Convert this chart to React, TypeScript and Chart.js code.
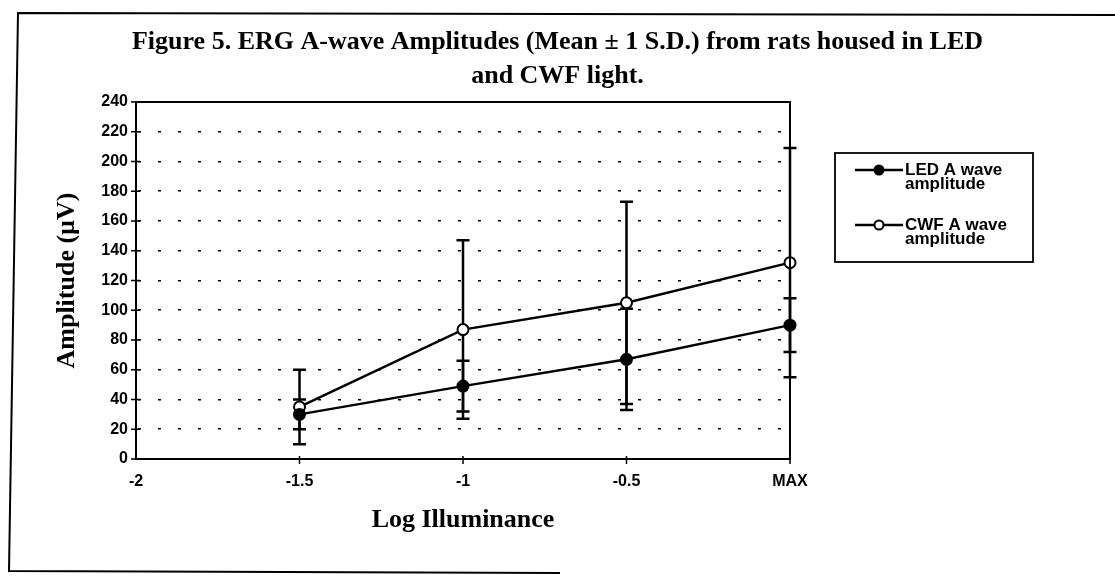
import React, { useEffect, useRef } from "react";
import { Chart, registerables } from "chart.js";

Chart.register(...registerables);

// ---- data ----
const xTickLabels = ["-2", "-1.5", "-1", "-0.5", "MAX"];
const pointLabels = ["-1.5", "-1", "-0.5", "MAX"];
const ledMean = [30, 49, 67, 90];
const ledSD = [10, 17, 34, 18];
const cwfMean = [35, 87, 105, 132];
const cwfSD = [25, 60, 68, 77];
const seriesNames = ["LED A wave amplitude", "CWF A wave amplitude"];
const legendLines = [
  ["LED A wave", "amplitude"],
  ["CWF A wave", "amplitude"],
];
const titleLines = [
  "Figure 5. ERG A-wave Amplitudes (Mean ± 1 S.D.) from rats housed in LED",
  "and CWF light.",
];
const yTitle = "Amplitude (µV)";
const xTitle = "Log Illuminance";
const yMin = 0;
const yMax = 240;
const yStep = 20;

const W = 1115;
const H = 578;

const decorPlugin = {
  id: "decor",
  beforeDraw(chart: any) {
    const ctx = chart.ctx;
    ctx.save();
    ctx.fillStyle = "#fff";
    ctx.fillRect(0, 0, chart.width, chart.height);
    // outer scanned frame
    ctx.strokeStyle = "#000";
    ctx.lineWidth = 2;
    ctx.beginPath();
    ctx.moveTo(W, 15);
    ctx.lineTo(18, 13);
    ctx.lineTo(9, 571);
    ctx.lineTo(560, 573);
    ctx.stroke();
    ctx.restore();
  },
  beforeDatasetsDraw(chart: any) {
    const ctx = chart.ctx;
    const yScale = chart.scales.y;
    ctx.save();
    ctx.strokeStyle = "#000";
    ctx.lineWidth = 2.5;
    chart.data.datasets.forEach((ds: any, di: number) => {
      const meta = chart.getDatasetMeta(di);
      meta.data.forEach((pt: any, i: number) => {
        const m = ds.means[i];
        const s = ds.sd[i];
        const x = pt.x;
        const yt = yScale.getPixelForValue(m + s);
        const yb = yScale.getPixelForValue(m - s);
        ctx.beginPath();
        ctx.moveTo(x, yt);
        ctx.lineTo(x, yb);
        ctx.moveTo(x - 6.5, yt);
        ctx.lineTo(x + 6.5, yt);
        ctx.moveTo(x - 6.5, yb);
        ctx.lineTo(x + 6.5, yb);
        ctx.stroke();
      });
    });
    ctx.restore();
  },
  afterDraw(chart: any) {
    const ctx = chart.ctx;
    const a = chart.chartArea;
    const yScale = chart.scales.y;
    const xScale = chart.scales.x;
    ctx.save();
    ctx.strokeStyle = "#000";
    ctx.lineWidth = 2;
    ctx.strokeRect(a.left, a.top, a.right - a.left, a.bottom - a.top);
    // crossing tick marks
    ctx.lineWidth = 1.5;
    ctx.beginPath();
    yScale.ticks.forEach((t: any) => {
      const y = yScale.getPixelForValue(t.value);
      ctx.moveTo(a.left - 5, y);
      ctx.lineTo(a.left + 4, y);
    });
    xScale.ticks.forEach((t: any, i: number) => {
      if (i === 0) return;
      const x = xScale.getPixelForValue(i);
      ctx.moveTo(x, a.bottom - 3);
      ctx.lineTo(x, a.bottom + 5);
    });
    ctx.stroke();

    // legend
    const lx = 835, ly = 153, lw = 198, lh = 109;
    ctx.lineWidth = 1.8;
    ctx.strokeRect(lx, ly, lw, lh);
    chart.data.datasets.forEach((ds: any, di: number) => {
      const cy = ly + 17 + di * 55;
      ctx.strokeStyle = "#000";
      ctx.lineWidth = 2.5;
      ctx.beginPath();
      ctx.moveTo(lx + 20, cy);
      ctx.lineTo(lx + 68, cy);
      ctx.stroke();
      ctx.beginPath();
      ctx.arc(lx + 44, cy, 4.5, 0, Math.PI * 2);
      ctx.fillStyle = ds.pointBackgroundColor;
      ctx.fill();
      ctx.lineWidth = 2;
      ctx.stroke();
      ctx.fillStyle = "#000";
      ctx.font = "bold 17px 'Liberation Sans', Arial, sans-serif";
      ctx.textBaseline = "middle";
      ctx.textAlign = "left";
      legendLines[di].forEach((line, li) => {
        ctx.fillText(line, lx + 70, cy + li * 14.5);
      });
    });
    ctx.restore();
  },
};

export default function App() {
  const ref = useRef<HTMLCanvasElement | null>(null);

  useEffect(() => {
    if (!ref.current) return;
    const tickFont = { family: "'Liberation Sans', Arial, sans-serif", size: 16, weight: "bold" as const };
    const serifBold = (size: number) => ({ family: "'Liberation Serif', 'Times New Roman', serif", size, weight: "bold" as const });

    const chart = new Chart(ref.current, {
      type: "line",
      data: {
        labels: xTickLabels,
        datasets: [
          {
            label: seriesNames[0],
            data: pointLabels.map((x, i) => ({ x, y: ledMean[i] })),
            means: ledMean,
            sd: ledSD,
            borderColor: "#000",
            borderWidth: 2.5,
            pointRadius: 5.5,
            pointBorderWidth: 2,
            pointBackgroundColor: "#000",
            pointBorderColor: "#000",
            tension: 0,
          } as any,
          {
            label: seriesNames[1],
            data: pointLabels.map((x, i) => ({ x, y: cwfMean[i] })),
            means: cwfMean,
            sd: cwfSD,
            borderColor: "#000",
            borderWidth: 2.5,
            pointRadius: 5.5,
            pointBorderWidth: 2,
            pointBackgroundColor: "#fff",
            pointBorderColor: "#000",
            tension: 0,
          } as any,
        ],
      },
      options: {
        animation: false,
        responsive: false,
        layout: { padding: 0 },
        plugins: {
          legend: { display: false },
          tooltip: { enabled: false },
          title: {
            display: true,
            text: titleLines,
            color: "#000",
            font: { ...serifBold(26), lineHeight: 34 / 26 },
            padding: { top: 25, bottom: 9 },
          },
        },
        scales: {
          x: {
            type: "category",
            offset: false,
            grid: { display: false, drawTicks: false },
            border: { display: false },
            ticks: { color: "#000", font: tickFont, padding: 13, maxRotation: 0, autoSkip: false },
            title: {
              display: true,
              text: xTitle,
              color: "#000",
              font: { ...serifBold(26), lineHeight: 1.2 },
              padding: { top: 0, bottom: 42 },
            },
            afterFit: (s: any) => {
              s.height = 119;
            },
          },
          y: {
            type: "linear",
            min: yMin,
            max: yMax,
            ticks: { stepSize: yStep, color: "#000", font: tickFont, padding: 8 },
            grid: {
              drawTicks: false,
              lineWidth: 1.6,
              color: (c: any) =>
                c.tick && (c.tick.value === yMin || c.tick.value === yMax) ? "rgba(0,0,0,0)" : "#000",
            },
            border: { display: false, dash: [3, 17], dashOffset: 18 },
            title: {
              display: true,
              text: yTitle,
              color: "#000",
              font: { ...serifBold(26), lineHeight: 1.2 },
              padding: { top: 52, bottom: 0 },
            },
            afterFit: (s: any) => {
              s.width = 136;
            },
          },
          yRight: {
            type: "linear",
            position: "right",
            min: 0,
            max: 1,
            display: true,
            ticks: { display: false },
            grid: { display: false, drawTicks: false },
            border: { display: false },
            afterFit: (s: any) => {
              s.width = W - 790;
            },
          },
        },
      } as any,
      plugins: [decorPlugin],
    });
    return () => chart.destroy();
  }, []);

  return (
    <div style={{ position: "absolute", left: 0, top: 0, width: W, height: H, background: "#fff" }}>
      <canvas ref={ref} width={W} height={H} style={{ width: W, height: H, display: "block" }} />
    </div>
  );
}
